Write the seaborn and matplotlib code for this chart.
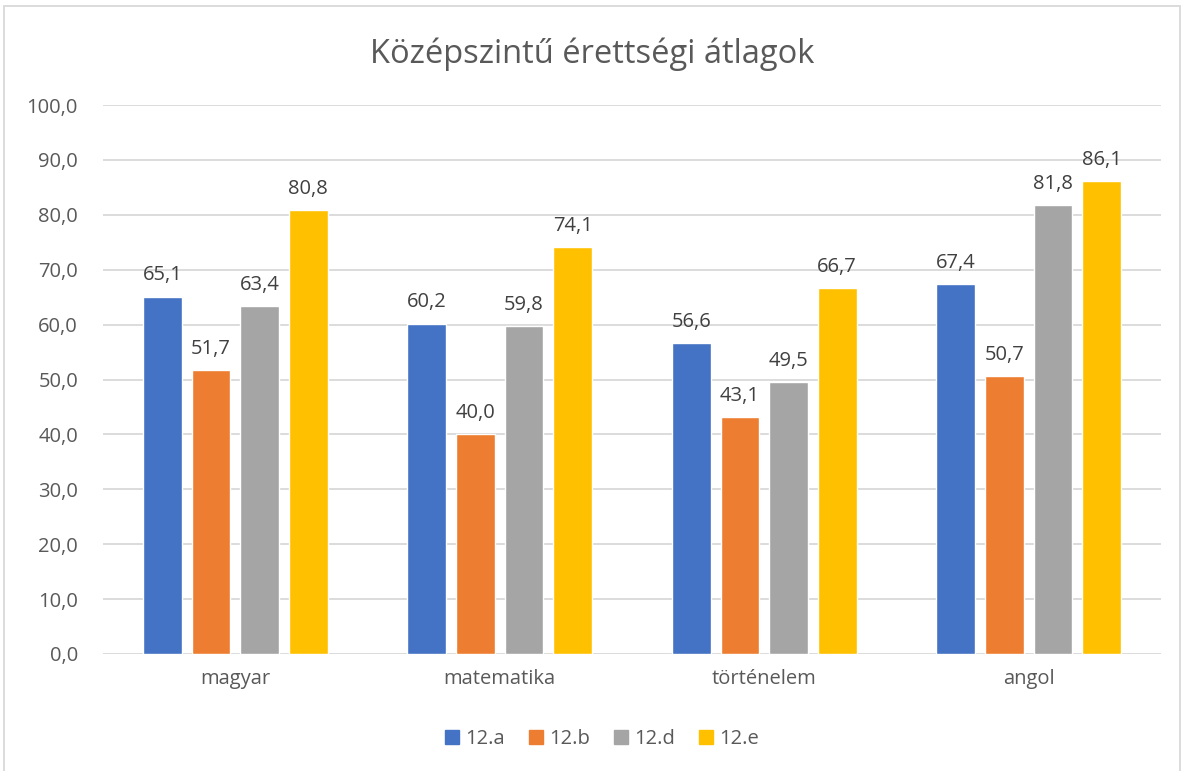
import matplotlib
matplotlib.use("Agg")
import matplotlib.pyplot as plt
import matplotlib.patches as mpatches
import seaborn as sns
import pandas as pd

subjects = ["magyar", "matematika", "történelem", "angol"]
classes = ["12.a", "12.b", "12.d", "12.e"]
v_12a = [65.1, 60.2, 56.6, 67.4]
v_12b = [51.7, 40.0, 43.1, 50.7]
v_12d = [63.4, 59.8, 49.5, 81.8]
v_12e = [80.8, 74.1, 66.7, 86.1]
colors = ["#4472C4", "#ED7D31", "#A5A5A5", "#FFC000"]
title = "Középszintű érettségi átlagok"

rows = []
for cls, vals in zip(classes, [v_12a, v_12b, v_12d, v_12e]):
    for s, v in zip(subjects, vals):
        rows.append({"subject": s, "class": cls, "value": v})
df = pd.DataFrame(rows)

sns.set_theme(style="white")
plt.rcParams["font.family"] = ["Open Sans", "DejaVu Sans"]
txt = "#595959"

fig = plt.figure(figsize=(11.84, 7.71), dpi=100)
ax = fig.add_axes([103/1184, 1-654/771, (1161-103)/1184, (654-105)/771])

sns.barplot(data=df, x="subject", y="value", hue="class", order=subjects,
            hue_order=classes, palette=colors, width=0.735, gap=0.2,
            saturation=1, ax=ax, legend=False, zorder=3)

ax.set_ylim(0, 100)
ax.set_xlim(-0.5, 3.5)
ax.set_yticks(range(0, 101, 10))
ax.set_yticklabels([f"{t},0" for t in range(0, 101, 10)], color=txt, fontsize=14.5)
ax.tick_params(axis="y", length=0, pad=18)
ax.tick_params(axis="x", length=0, pad=11, labelsize=14.5, labelcolor=txt)
ax.grid(axis="y", color="#D9D9D9", linewidth=1.3, zorder=0)
ax.set_axisbelow(True)
for sp in ax.spines.values():
    sp.set_visible(False)
ax.set_xlabel("")
ax.set_ylabel("")

for cont in ax.containers:
    labels = [f"{b.get_height():.1f}".replace(".", ",") for b in cont]
    ax.bar_label(cont, labels=labels, padding=8, color="#404040", fontsize=14.5)

fig.text(0.5, 1-54/771, title, ha="center", va="center", fontsize=23.5, color=txt)

handles = [mpatches.Patch(color=c, label=l) for c, l in zip(colors, classes)]
fig.legend(handles=handles, loc="center", bbox_to_anchor=(0.5 + 10/1184, 1-739/771), ncol=4,
           frameon=False, fontsize=14.5, labelcolor=txt, handlelength=0.7,
           handleheight=0.7, handletextpad=0.3, columnspacing=1.2)

border = mpatches.Rectangle((4/1184, -0.01), (1180-4)/1184, (771-6)/771 + 0.01,
                            transform=fig.transFigure, fill=False,
                            edgecolor="#D9D9D9", linewidth=1.3)
fig.add_artist(border)

fig.savefig("out.png", dpi=100)
